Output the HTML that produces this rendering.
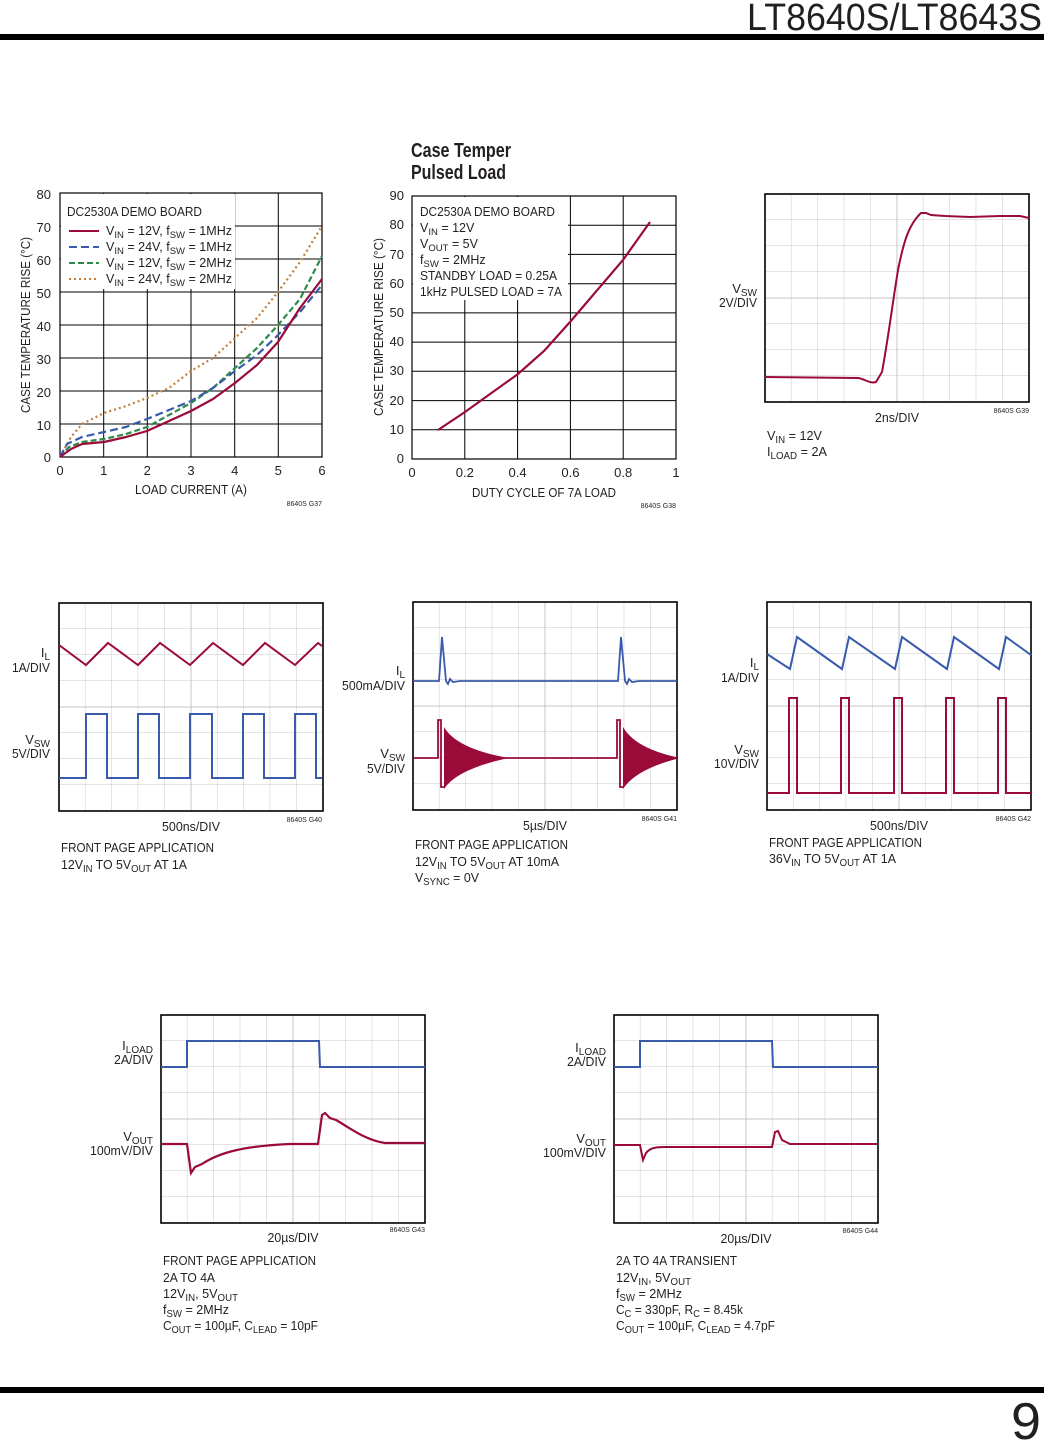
<!DOCTYPE html>
<html><head><meta charset="utf-8"><style>
html,body{margin:0;padding:0;background:#fff}
svg{display:block}
text{font-family:"Liberation Sans",sans-serif;fill:#231f20}
</style></head><body>
<svg width="1044" height="1443" viewBox="0 0 1044 1443" xmlns="http://www.w3.org/2000/svg">
<defs>
<pattern id="sg" patternUnits="userSpaceOnUse" x="0" y="0" width="26.4" height="26">
<path d="M26.4,0V26M0,26H26.4" fill="none" stroke="#c9c9c9" stroke-width="1"/>
</pattern>
<g id="scope">
<rect x="0" y="0" width="264" height="208" fill="url(#sg)"/>
<path d="M132,0V208M0,104H264" stroke="#c4c4c4" stroke-width="1"/>
<rect x="0" y="0" width="264" height="208" fill="none" stroke="#000" stroke-width="1.6"/>
</g>
</defs>

<!-- header / footer -->
<text x="747" y="30" font-size="38" textLength="295" lengthAdjust="spacingAndGlyphs">LT8640S/LT8643S</text>
<rect x="0" y="34" width="1044" height="6" fill="#000"/>
<rect x="0" y="1387" width="1044" height="6" fill="#000"/>
<text x="1041" y="1439" text-anchor="end" font-size="52" textLength="30" lengthAdjust="spacingAndGlyphs">9</text>

<!-- ========== Chart 1 ========== -->
<g stroke="#000" stroke-width="1">
<path d="M103.7,193V457M147.3,193V457M191,193V457M234.7,193V457M278.3,193V457M60,226H322M60,259H322M60,292H322M60,325H322M60,358H322M60,391H322M60,424H322"/>
</g>
<rect x="61" y="194" width="174" height="95" fill="#fff"/>
<rect x="60" y="193" width="262" height="264" fill="none" stroke="#000" stroke-width="1.2"/>
<g font-size="13" text-anchor="end">
<text x="51" y="199">80</text><text x="51" y="232">70</text><text x="51" y="265">60</text><text x="51" y="298">50</text><text x="51" y="331">40</text><text x="51" y="364">30</text><text x="51" y="397">20</text><text x="51" y="430">10</text><text x="51" y="462">0</text>
</g>
<g font-size="13" text-anchor="middle">
<text x="60" y="475">0</text><text x="103.7" y="475">1</text><text x="147.3" y="475">2</text><text x="191" y="475">3</text><text x="234.7" y="475">4</text><text x="278.3" y="475">5</text><text x="322" y="475">6</text>
<text x="191" y="494" textLength="112" lengthAdjust="spacingAndGlyphs">LOAD CURRENT (A)</text>
<text transform="translate(30,325) rotate(-90)" textLength="176" lengthAdjust="spacingAndGlyphs">CASE TEMPERATURE RISE (°C)</text>
</g>
<text x="322" y="506" text-anchor="end" font-size="7">8640S G37</text>
<g font-size="12.5">
<text x="67" y="216" textLength="135" lengthAdjust="spacingAndGlyphs">DC2530A DEMO BOARD</text>
<text x="106" y="235" textLength="126" lengthAdjust="spacingAndGlyphs">V<tspan font-size="9.5" dy="3">IN</tspan><tspan dy="-3"> = 12V, f</tspan><tspan font-size="9.5" dy="3">SW</tspan><tspan dy="-3"> = 1MHz</tspan></text>
<text x="106" y="251" textLength="126" lengthAdjust="spacingAndGlyphs">V<tspan font-size="9.5" dy="3">IN</tspan><tspan dy="-3"> = 24V, f</tspan><tspan font-size="9.5" dy="3">SW</tspan><tspan dy="-3"> = 1MHz</tspan></text>
<text x="106" y="267" textLength="126" lengthAdjust="spacingAndGlyphs">V<tspan font-size="9.5" dy="3">IN</tspan><tspan dy="-3"> = 12V, f</tspan><tspan font-size="9.5" dy="3">SW</tspan><tspan dy="-3"> = 2MHz</tspan></text>
<text x="106" y="283" textLength="126" lengthAdjust="spacingAndGlyphs">V<tspan font-size="9.5" dy="3">IN</tspan><tspan dy="-3"> = 24V, f</tspan><tspan font-size="9.5" dy="3">SW</tspan><tspan dy="-3"> = 2MHz</tspan></text>
</g>
<path d="M69,231H99" stroke="#9b0b3a" stroke-width="2"/>
<path d="M69,247H99" stroke="#3a5bab" stroke-width="2" stroke-dasharray="8,4"/>
<path d="M69,263H99" stroke="#2e8a4a" stroke-width="2" stroke-dasharray="6,3"/>
<path d="M69,279H99" stroke="#c0803a" stroke-width="2" stroke-dasharray="2,3"/>
<g fill="none" stroke-width="2.2" stroke-linejoin="round">
<polyline stroke="#c0803a" stroke-dasharray="2,3" points="60,457 71,437 82,424 104,413 126,406 147,398 169,388 191,371 213,358 235,338 257,318 278,292 300,262 322,226"/>
<polyline stroke="#2e8a4a" stroke-dasharray="6,3" points="60,457 69,447 82,442 104,439 126,434 147,427 191,403 213,388 235,368 257,348 278,325 300,299 322,256"/>
<polyline stroke="#3a5bab" stroke-dasharray="8,4" points="60,457 67,444 82,437 104,432 126,427 147,419 191,401 213,388 235,371 257,355 278,335 300,312 322,285"/>
<polyline stroke="#9b0b3a" points="60,457 71,449 82,444 104,442 126,437 147,431 191,411 213,399 235,383 257,365 278,342 300,308 322,279"/>
</g>

<!-- ========== Chart 2 ========== -->
<text x="411" y="157" font-size="20" font-weight="bold" textLength="100" lengthAdjust="spacingAndGlyphs">Case Temper</text>
<text x="411" y="179" font-size="20" font-weight="bold" textLength="95" lengthAdjust="spacingAndGlyphs">Pulsed Load</text>
<g stroke="#000" stroke-width="1">
<path d="M464.8,196V459M517.6,196V459M570.4,196V459M623.2,196V459M412,225.2H676M412,254.4H676M412,283.7H676M412,312.9H676M412,342.1H676M412,371.3H676M412,400.6H676M412,429.8H676"/>
</g>
<rect x="413" y="197" width="155" height="103" fill="#fff"/>
<rect x="412" y="196" width="264" height="263" fill="none" stroke="#000" stroke-width="1.2"/>
<g font-size="13" text-anchor="end">
<text x="404" y="200">90</text><text x="404" y="229">80</text><text x="404" y="259">70</text><text x="404" y="288">60</text><text x="404" y="317">50</text><text x="404" y="346">40</text><text x="404" y="375">30</text><text x="404" y="405">20</text><text x="404" y="434">10</text><text x="404" y="463">0</text>
</g>
<g font-size="13" text-anchor="middle">
<text x="412" y="477">0</text><text x="464.8" y="477">0.2</text><text x="517.6" y="477">0.4</text><text x="570.4" y="477">0.6</text><text x="623.2" y="477">0.8</text><text x="676" y="477">1</text>
<text x="544" y="497" textLength="144" lengthAdjust="spacingAndGlyphs">DUTY CYCLE OF 7A LOAD</text>
<text transform="translate(383,327) rotate(-90)" textLength="178" lengthAdjust="spacingAndGlyphs">CASE TEMPERATURE RISE (°C)</text>
</g>
<text x="676" y="508" text-anchor="end" font-size="7">8640S G38</text>
<g font-size="12.5">
<text x="420" y="216" textLength="135" lengthAdjust="spacingAndGlyphs">DC2530A DEMO BOARD</text>
<text x="420" y="232">V<tspan font-size="9.5" dy="3">IN</tspan><tspan dy="-3"> = 12V</tspan></text>
<text x="420" y="248">V<tspan font-size="9.5" dy="3">OUT</tspan><tspan dy="-3"> = 5V</tspan></text>
<text x="420" y="264">f<tspan font-size="9.5" dy="3">SW</tspan><tspan dy="-3"> = 2MHz</tspan></text>
<text x="420" y="280" textLength="137" lengthAdjust="spacingAndGlyphs">STANDBY LOAD = 0.25A</text>
<text x="420" y="296" textLength="142" lengthAdjust="spacingAndGlyphs">1kHz PULSED LOAD = 7A</text>
</g>
<polyline fill="none" stroke="#9b0b3a" stroke-width="2.2" points="438,430 465,412 518,374 544,351 570,322 623,260 650,222"/>

<!-- ========== G39 ========== -->
<use href="#scope" transform="translate(765,194)"/>
<path d="M765,377 L858,378 C865,379 870,384 876,382 L882,372 C888,340 893,300 898,270 C903,245 908,225 921,213 L926,213 L931,215 L945,216 L970,217 L1000,216 L1020,216 L1029,218" fill="none" stroke="#9b0b3a" stroke-width="2"/>
<g font-size="13">
<text x="757" y="293" text-anchor="end">V<tspan font-size="10" dy="3">SW</tspan></text>
<text x="757" y="307" text-anchor="end" textLength="38" lengthAdjust="spacingAndGlyphs">2V/DIV</text>
<text x="897" y="422" text-anchor="middle" textLength="44" lengthAdjust="spacingAndGlyphs">2ns/DIV</text>
<text x="767" y="440" textLength="55" lengthAdjust="spacingAndGlyphs">V<tspan font-size="10" dy="3">IN</tspan><tspan dy="-3"> = 12V</tspan></text>
<text x="767" y="456" textLength="60" lengthAdjust="spacingAndGlyphs">I<tspan font-size="10" dy="3">LOAD</tspan><tspan dy="-3"> = 2A</tspan></text>
</g>
<text x="1029" y="413" text-anchor="end" font-size="7">8640S G39</text>

<!-- ========== G40 ========== -->
<use href="#scope" transform="translate(59,603)"/>
<polyline fill="none" stroke="#9b0b3a" stroke-width="2" points="59,645 86,665 108,643 138,665 160,643 190,665 213,643 243,665 265,643 295,665 318,643 322,646"/>
<path d="M59,778H86V714H107V778H138V714H159V778H190V714H212V778H243V714H264V778H295V714H316V778H322" fill="none" stroke="#3a5bab" stroke-width="2"/>
<g font-size="13">
<text x="50" y="657" text-anchor="end">I<tspan font-size="10" dy="3">L</tspan></text>
<text x="50" y="672" text-anchor="end" textLength="38" lengthAdjust="spacingAndGlyphs">1A/DIV</text>
<text x="50" y="744" text-anchor="end">V<tspan font-size="10" dy="3">SW</tspan></text>
<text x="50" y="758" text-anchor="end" textLength="38" lengthAdjust="spacingAndGlyphs">5V/DIV</text>
<text x="191" y="831" text-anchor="middle" textLength="58" lengthAdjust="spacingAndGlyphs">500ns/DIV</text>
<text x="61" y="852" textLength="153" lengthAdjust="spacingAndGlyphs">FRONT PAGE APPLICATION</text>
<text x="61" y="869" textLength="126" lengthAdjust="spacingAndGlyphs">12V<tspan font-size="10" dy="3">IN</tspan><tspan dy="-3"> TO 5V</tspan><tspan font-size="10" dy="3">OUT</tspan><tspan dy="-3"> AT 1A</tspan></text>
</g>
<text x="322" y="822" text-anchor="end" font-size="7">8640S G40</text>

<!-- ========== G41 ========== -->
<use href="#scope" transform="translate(413,602)"/>
<path d="M413,681H439L442,637L446,681L448,684L450,679L453,682L460,681H618L621,637L625,681L627,684L629,679L632,682L639,681H677" fill="none" stroke="#3a5bab" stroke-width="1.8"/>
<path d="M413,758H438V720H441V787H444M500,758H617V720H620V787H623" fill="none" stroke="#9b0b3a" stroke-width="1.8"/>
<path d="M444,727 Q456,748 505,757.3 L505,758.7 Q456,770 444,789 Z" fill="#9b0b3a"/>
<path d="M623,727 Q635,748 677,757.3 L677,758.7 Q635,770 623,789 Z" fill="#9b0b3a"/>
<g font-size="13">
<text x="405" y="675" text-anchor="end">I<tspan font-size="10" dy="3">L</tspan></text>
<text x="405" y="690" text-anchor="end" textLength="63" lengthAdjust="spacingAndGlyphs">500mA/DIV</text>
<text x="405" y="758" text-anchor="end">V<tspan font-size="10" dy="3">SW</tspan></text>
<text x="405" y="773" text-anchor="end" textLength="38" lengthAdjust="spacingAndGlyphs">5V/DIV</text>
<text x="545" y="830" text-anchor="middle" textLength="44" lengthAdjust="spacingAndGlyphs">5µs/DIV</text>
<text x="415" y="849" textLength="153" lengthAdjust="spacingAndGlyphs">FRONT PAGE APPLICATION</text>
<text x="415" y="866" textLength="144" lengthAdjust="spacingAndGlyphs">12V<tspan font-size="10" dy="3">IN</tspan><tspan dy="-3"> TO 5V</tspan><tspan font-size="10" dy="3">OUT</tspan><tspan dy="-3"> AT 10mA</tspan></text>
<text x="415" y="882" textLength="64" lengthAdjust="spacingAndGlyphs">V<tspan font-size="10" dy="3">SYNC</tspan><tspan dy="-3"> = 0V</tspan></text>
</g>
<text x="677" y="821" text-anchor="end" font-size="7">8640S G41</text>

<!-- ========== G42 ========== -->
<use href="#scope" transform="translate(767,602)"/>
<polyline fill="none" stroke="#3a5bab" stroke-width="2" points="767,654 790,669 797,637 842,669 849,637 895,669 902,637 947,669 954,637 999,669 1006,637 1031,655"/>
<path d="M767,793H789V698H797V793H841V698H849V793H894V698H902V793H946V698H954V793H998V698H1006V793H1031" fill="none" stroke="#9b0b3a" stroke-width="2"/>
<g font-size="13">
<text x="759" y="667" text-anchor="end">I<tspan font-size="10" dy="3">L</tspan></text>
<text x="759" y="682" text-anchor="end" textLength="38" lengthAdjust="spacingAndGlyphs">1A/DIV</text>
<text x="759" y="754" text-anchor="end">V<tspan font-size="10" dy="3">SW</tspan></text>
<text x="759" y="768" text-anchor="end" textLength="45" lengthAdjust="spacingAndGlyphs">10V/DIV</text>
<text x="899" y="830" text-anchor="middle" textLength="58" lengthAdjust="spacingAndGlyphs">500ns/DIV</text>
<text x="769" y="847" textLength="153" lengthAdjust="spacingAndGlyphs">FRONT PAGE APPLICATION</text>
<text x="769" y="863" textLength="127" lengthAdjust="spacingAndGlyphs">36V<tspan font-size="10" dy="3">IN</tspan><tspan dy="-3"> TO 5V</tspan><tspan font-size="10" dy="3">OUT</tspan><tspan dy="-3"> AT 1A</tspan></text>
</g>
<text x="1031" y="821" text-anchor="end" font-size="7">8640S G42</text>

<!-- ========== G43 ========== -->
<use href="#scope" transform="translate(161,1015)"/>
<path d="M161,1067H187V1041H319L320,1067H425" fill="none" stroke="#3a5bab" stroke-width="2"/>
<path d="M161,1144H187L191,1173L195,1167L202,1164C220,1152 245,1146 290,1144H318L322,1115L325,1113L330,1118L336,1120C350,1128 365,1140 385,1143H425" fill="none" stroke="#9b0b3a" stroke-width="2.2"/>
<g font-size="13">
<text x="153" y="1050" text-anchor="end">I<tspan font-size="10" dy="3">LOAD</tspan></text>
<text x="153" y="1064" text-anchor="end" textLength="39" lengthAdjust="spacingAndGlyphs">2A/DIV</text>
<text x="153" y="1141" text-anchor="end">V<tspan font-size="10" dy="3">OUT</tspan></text>
<text x="153" y="1155" text-anchor="end" textLength="63" lengthAdjust="spacingAndGlyphs">100mV/DIV</text>
<text x="293" y="1242" text-anchor="middle" textLength="51" lengthAdjust="spacingAndGlyphs">20µs/DIV</text>
<text x="163" y="1265" textLength="153" lengthAdjust="spacingAndGlyphs">FRONT PAGE APPLICATION</text>
<text x="163" y="1282" textLength="52" lengthAdjust="spacingAndGlyphs">2A TO 4A</text>
<text x="163" y="1298" textLength="75" lengthAdjust="spacingAndGlyphs">12V<tspan font-size="10" dy="3">IN</tspan><tspan dy="-3">, 5V</tspan><tspan font-size="10" dy="3">OUT</tspan></text>
<text x="163" y="1314" textLength="66" lengthAdjust="spacingAndGlyphs">f<tspan font-size="10" dy="3">SW</tspan><tspan dy="-3"> = 2MHz</tspan></text>
<text x="163" y="1330" textLength="155" lengthAdjust="spacingAndGlyphs">C<tspan font-size="10" dy="3">OUT</tspan><tspan dy="-3"> = 100µF, C</tspan><tspan font-size="10" dy="3">LEAD</tspan><tspan dy="-3"> = 10pF</tspan></text>
</g>
<text x="425" y="1232" text-anchor="end" font-size="7">8640S G43</text>

<!-- ========== G44 ========== -->
<use href="#scope" transform="translate(614,1015)"/>
<path d="M614,1067H640V1041H772L773,1067H878" fill="none" stroke="#3a5bab" stroke-width="2"/>
<path d="M614,1145H640L643,1160L646,1153C650,1148 655,1147 665,1147H772L775,1132L778,1131L782,1140L790,1144H878" fill="none" stroke="#9b0b3a" stroke-width="2"/>
<g font-size="13">
<text x="606" y="1052" text-anchor="end">I<tspan font-size="10" dy="3">LOAD</tspan></text>
<text x="606" y="1066" text-anchor="end" textLength="39" lengthAdjust="spacingAndGlyphs">2A/DIV</text>
<text x="606" y="1143" text-anchor="end">V<tspan font-size="10" dy="3">OUT</tspan></text>
<text x="606" y="1157" text-anchor="end" textLength="63" lengthAdjust="spacingAndGlyphs">100mV/DIV</text>
<text x="746" y="1243" text-anchor="middle" textLength="51" lengthAdjust="spacingAndGlyphs">20µs/DIV</text>
<text x="616" y="1265" textLength="121" lengthAdjust="spacingAndGlyphs">2A TO 4A TRANSIENT</text>
<text x="616" y="1282" textLength="75" lengthAdjust="spacingAndGlyphs">12V<tspan font-size="10" dy="3">IN</tspan><tspan dy="-3">, 5V</tspan><tspan font-size="10" dy="3">OUT</tspan></text>
<text x="616" y="1298" textLength="66" lengthAdjust="spacingAndGlyphs">f<tspan font-size="10" dy="3">SW</tspan><tspan dy="-3"> = 2MHz</tspan></text>
<text x="616" y="1314" textLength="127" lengthAdjust="spacingAndGlyphs">C<tspan font-size="10" dy="3">C</tspan><tspan dy="-3"> = 330pF, R</tspan><tspan font-size="10" dy="3">C</tspan><tspan dy="-3"> = 8.45k</tspan></text>
<text x="616" y="1330" textLength="159" lengthAdjust="spacingAndGlyphs">C<tspan font-size="10" dy="3">OUT</tspan><tspan dy="-3"> = 100µF, C</tspan><tspan font-size="10" dy="3">LEAD</tspan><tspan dy="-3"> = 4.7pF</tspan></text>
</g>
<text x="878" y="1233" text-anchor="end" font-size="7">8640S G44</text>
</svg>
</body></html>
